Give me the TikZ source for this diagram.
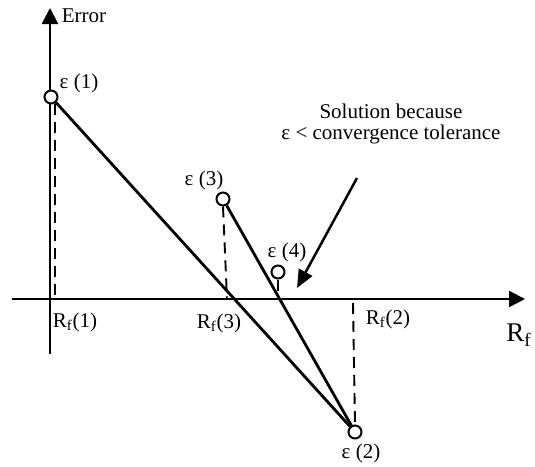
\documentclass[tikz,border=0pt]{standalone}
\usepackage{fontspec}
\setmainfont{Liberation Serif}
\usetikzlibrary{arrows.meta}
\begin{document}
\begin{tikzpicture}[x=0.5pt,y=-0.5pt,
  axis/.style={line width=1.2pt,-{Triangle[length=8pt,width=8pt]}},
  mainline/.style={line width=1.4pt},
  dashline/.style={line width=0.95pt,dash pattern=on 5.5pt off 3.5pt},
  pt/.style={circle,draw,line width=1pt,fill=white,minimum size=6.5pt,inner sep=0pt},
  lbl/.style={font=\fontsize{10.5}{10.5}\selectfont,inner sep=0pt},
  callout/.style={line width=1.25pt,-{Triangle[length=9pt,width=7.5pt]}}]
\useasboundingbox (0,0) rectangle (535,466);
% axes
\coordinate (xs) at (12,299);
\coordinate (xe) at (525,299);
\coordinate (ys) at (50,354);
\coordinate (ye) at (50,8);
\draw[axis] (xs) -- (xe);
\draw[axis] (ys) -- (ye);
% axis foot points
\coordinate (a1) at (55,299);
\coordinate (a3) at (227,299);
\coordinate (a4) at (278,299);
\coordinate (a2) at (353,303);
% points
\node[pt] (e1) at (51,97) {};
\node[pt] (e3) at (223,199) {};
\node[pt] (e4) at (278,272) {};
\node[pt] (e2) at (355,432) {};
% dashed drops
\coordinate (d1) at (55,104);
\draw[dashline] (d1) -- (a1);
\draw[dashline] (e3.south) -- (a3);
\draw[dashline] (e4.south) -- (a4);
\draw[dashline] (a2) -- (e2.north);
% main lines
\draw[mainline] (e1) -- (e2);
\draw[mainline] (e3) -- (e2);
% labels
\node[lbl] (lerr) at (84,16) {Error};
\node[lbl] (le1) at (79,83) {ε (1)};
\node[lbl] (le3) at (204,180) {ε (3)};
\node[lbl] (le4) at (287,252) {ε (4)};
\node[lbl] (le2) at (361,453) {ε (2)};
\node[lbl] (lr1) at (75,322) {R\textsubscript{f}(1)};
\node[lbl] (lr3) at (219,323) {R\textsubscript{f}(3)};
\node[lbl] (lr2) at (388,319) {R\textsubscript{f}(2)};
\node[inner sep=0pt,font=\fontsize{13.5}{13.5}\selectfont] (lrf) at (519,335) {R\textsubscript{f}};
\node[lbl,align=center] (sol) at (391,124) {Solution because\\ε < convergence tolerance};
% callout arrow
\coordinate (cs) at (357,178);
\coordinate (ce) at (297,288);
\draw[callout] (cs) -- (ce);
\end{tikzpicture}
\end{document}
